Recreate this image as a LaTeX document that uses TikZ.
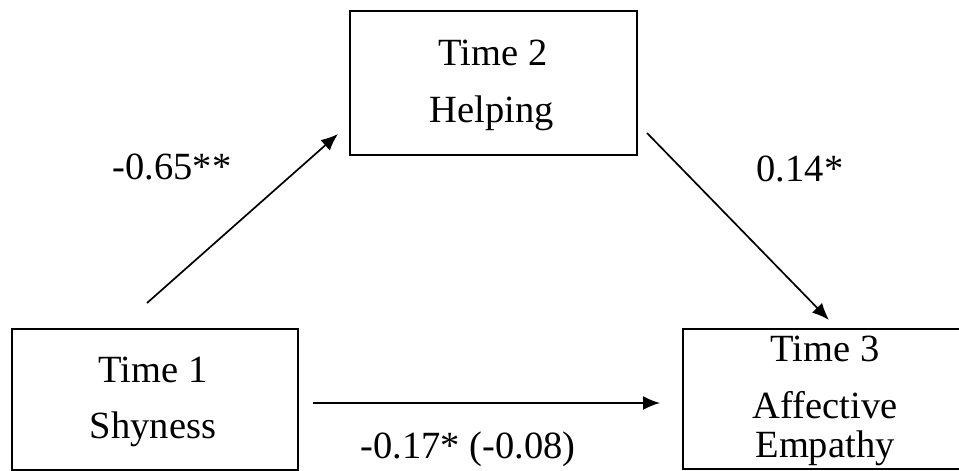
\documentclass[tikz,border=0pt]{standalone}
\usepackage{fontspec}
\setmainfont{Liberation Serif}
\usetikzlibrary{arrows.meta}
\begin{document}
\begin{tikzpicture}[x=0.5pt,y=-0.5pt,
  box/.style={draw, line width=1pt, inner sep=0pt, outer sep=0pt, minimum width=#1},
  lbl/.style={anchor=base, inner sep=0pt, font=\fontsize{19.25pt}{23pt}\selectfont},
  conn/.style={line width=0.85pt, -{Latex[length=8.5pt,width=7pt]}}]
\clip (0,0) rectangle (959,471);
\fill[white] (0,0) rectangle (959,471);
% boxes
\node[box=143.5pt, minimum height=72pt] (help) at (493.5,83) {};
\node[box=143pt, minimum height=70.5pt] (shy) at (155,399.5) {};
\node[box=160pt, minimum height=70pt] (emp) at (843,399) {};
% box texts
\node[lbl] (t2a) at (493,65) {Time 2};
\node[lbl] (t2b) at (492,122) {Helping};
\node[lbl] (t1a) at (153,382) {Time 1};
\node[lbl] (t1b) at (153,438) {Shyness};
\node[lbl] (t3a) at (825,361) {Time 3};
\node[lbl] (t3b) at (825,418) {Affective};
\node[lbl] (t3c) at (825,457) {Empathy};
% connector ends
\coordinate (a1s) at (147,303);
\coordinate (a1e) at (338,134);
\coordinate (a2s) at (647,133);
\coordinate (a2e) at (829,320);
\coordinate (a3s) at (313,403);
\coordinate (a3e) at (660,403);
\draw[conn] (a1s) -- (a1e);
\draw[conn] (a2s) -- (a2e);
\draw[conn] (a3s) -- (a3e);
% path labels
\node[lbl] (l1) at (172,179) {-0.65**};
\node[lbl] (l2) at (800,181) {0.14*};
\node[lbl] (l3) at (468,458) {-0.17* (-0.08)};
\end{tikzpicture}
\end{document}
